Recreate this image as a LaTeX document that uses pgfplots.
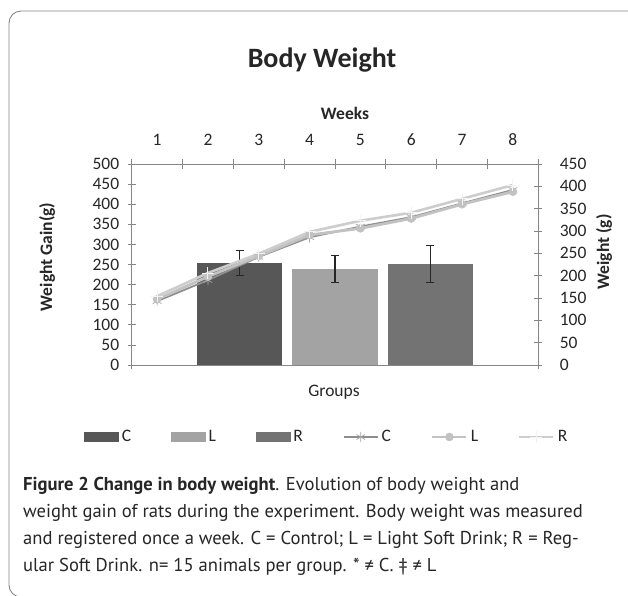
\documentclass[border=0pt]{standalone}
\usepackage{fontspec}
\setmainfont{Carlito}
\newfontfamily\capfont{PT Sans}
\usepackage{pgfplots}
\pgfplotsset{compat=1.18}
\definecolor{barC}{HTML}{575757}
\definecolor{barL}{HTML}{A3A3A3}
\definecolor{barR}{HTML}{737373}
\definecolor{axgray}{HTML}{868686}
\definecolor{lineC}{HTML}{8E8E8E}
\definecolor{lineL}{HTML}{C2C2C2}
\definecolor{lineR}{HTML}{CDCDCD}
\pgfplotsset{/pgf/number format/assume math mode=true}
\begin{document}
\begin{tikzpicture}
\useasboundingbox (0pt,0pt) rectangle (628pt,-595pt);
\fill[white] (0pt,0pt) rectangle (628pt,-595pt);
\draw[axgray, line width=0.9pt, rounded corners=12pt] (9pt,-11pt) rectangle (650pt,-597pt);
% bars
\begin{axis}[at={(131.7pt,-365pt)}, anchor=south west, scale only axis,
  width=406.6pt, height=201pt,
  xmin=-2.129, xmax=2.129, ymin=0, ymax=500,
  ytick={0,50,...,500}, xtick={-2.129,2.129}, xticklabels={},
  axis x line*=bottom, axis y line*=left,
  axis line style={draw=axgray, line width=0.8pt, -},
  tick style={draw=axgray, line width=0.8pt},
  tick align=center, major tick length=8pt,
  yticklabel style={font=\fontsize{17.5}{18}\selectfont, text=black!85, xshift=-5pt},
  clip=false]
\addplot[ybar, bar width=85.6pt, bar shift=0pt, fill=barC, draw=none,
  error bars/.cd, y dir=both, y explicit,
  error bar style={black!85, line width=1.2pt},
  error mark=|, error mark options={black!85, mark size=4pt, line width=1.2pt}]
  coordinates {(-1,253) +- (0,31)};
\addplot[ybar, bar width=85.6pt, bar shift=0pt, fill=barL, draw=none,
  error bars/.cd, y dir=both, y explicit,
  error bar style={black!85, line width=1.2pt},
  error mark=|, error mark options={black!85, mark size=4pt, line width=1.2pt}]
  coordinates {(0,239) +- (0,33)};
\addplot[ybar, bar width=85.6pt, bar shift=0pt, fill=barR, draw=none,
  error bars/.cd, y dir=both, y explicit,
  error bar style={black!85, line width=1.2pt},
  error mark=|, error mark options={black!85, mark size=4pt, line width=1.2pt}]
  coordinates {(1,251) +- (0,46)};
\end{axis}
% lines
\begin{axis}[at={(131.7pt,-365pt)}, anchor=south west, scale only axis,
  width=406.6pt, height=201pt,
  xmin=0.5, xmax=8.5, ymin=0, ymax=450,
  xtick={1,...,8}, minor xtick={0.5,1.5,...,8.5},
  ytick={0,50,...,450},
  axis x line*=top, axis y line*=right,
  axis line style={draw=axgray, line width=0.8pt, -},
  tick style={draw=axgray, line width=0.8pt},
  major x tick style={draw=none},
  tick align=center, major tick length=8pt, minor tick length=10pt,
  xticklabel style={font=\fontsize{17.5}{18}\selectfont, text=black!85, yshift=11pt},
  yticklabel style={font=\fontsize{17.5}{18}\selectfont, text=black!85, xshift=14pt},
  clip=false,
  legend columns=6,
  legend style={at={(axis description cs:-0.1166,-0.358)}, anchor=west,
    draw=none, fill=none, inner sep=0pt,
    font=\fontsize{17.5}{18}\selectfont,
    nodes={inner sep=3pt, text=black!85},
    /tikz/every even column/.append style={column sep=37pt}},
  ]
\addlegendimage{legend image code/.code={\fill[barC] (0pt,-4.5pt) rectangle (34pt,4.5pt);}}
\addlegendentry{C}
\addlegendimage{legend image code/.code={\fill[barL] (0pt,-4.5pt) rectangle (34pt,4.5pt);}}
\addlegendentry{L}
\addlegendimage{legend image code/.code={\fill[barR] (0pt,-4.5pt) rectangle (34pt,4.5pt);}}
\addlegendentry{R}
\pgfplotsset{every axis plot/.append style={legend image code/.code={\draw[mark repeat=2, mark phase=2, ##1] plot coordinates {(0pt,0pt) (17pt,0pt) (34pt,0pt)};}}}
\addplot[lineC, line width=1.8pt, mark=asterisk, mark size=5pt, mark options={lineC!80, line width=0.7pt}]
  coordinates {(1,143)(2,190)(3,242)(4,286)(5,310)(6,331)(7,362)(8,392)};
\addlegendentry{C}
\addplot[lineL, line width=2.8pt, mark=*, mark size=4pt, mark options={fill=lineL, draw=lineL, line width=0.5pt}]
  coordinates {(1,147)(2,198)(3,244)(4,291)(5,306)(6,328)(7,360)(8,388)};
\addlegendentry{L}
\addplot[lineR, line width=2.6pt, mark=+, mark size=6pt, mark options={white!75!lineR, line width=0.9pt}]
  coordinates {(1,154)(2,206)(3,249)(4,298)(5,323)(6,341)(7,372)(8,403)};
\addlegendentry{R}
\end{axis}
% labels
\node[font=\bfseries\fontsize{28}{28}\selectfont, text=black!85] at (322pt,-60pt) {Body Weight};
\node[font=\bfseries\fontsize{17.5}{18}\selectfont, text=black!85] at (345pt,-113pt) {Weeks};
\node[font=\fontsize{17.5}{18}\selectfont, text=black!85] at (334pt,-392pt) {Groups};
\node[font=\bfseries\fontsize{17.5}{18}\selectfont, text=black!85, rotate=90] at (47pt,-257pt) {Weight Gain(g)};
\node[font=\bfseries\fontsize{17.5}{18}\selectfont, text=black!85, rotate=90] at (604pt,-252pt) {Weight (g)};
% caption
\begin{scope}[every node/.style={anchor=base west, inner sep=0pt, font=\capfont\fontsize{18.6}{19}\selectfont, text=black!85}]
\node at (23pt,-490pt) {\textbf{Figure 2 Change in body weight}. Evolution of body weight and};
\node at (23pt,-517pt) {weight gain of rats during the experiment. Body weight was measured};
\node at (23pt,-544pt) {and registered once a week. C = Control; L = Light Soft Drink; R = Reg-};
\node at (23pt,-571pt) {ular Soft Drink. n= 15 animals per group. * ≠ C. ‡ ≠ L};
\end{scope}
\end{tikzpicture}
\end{document}
